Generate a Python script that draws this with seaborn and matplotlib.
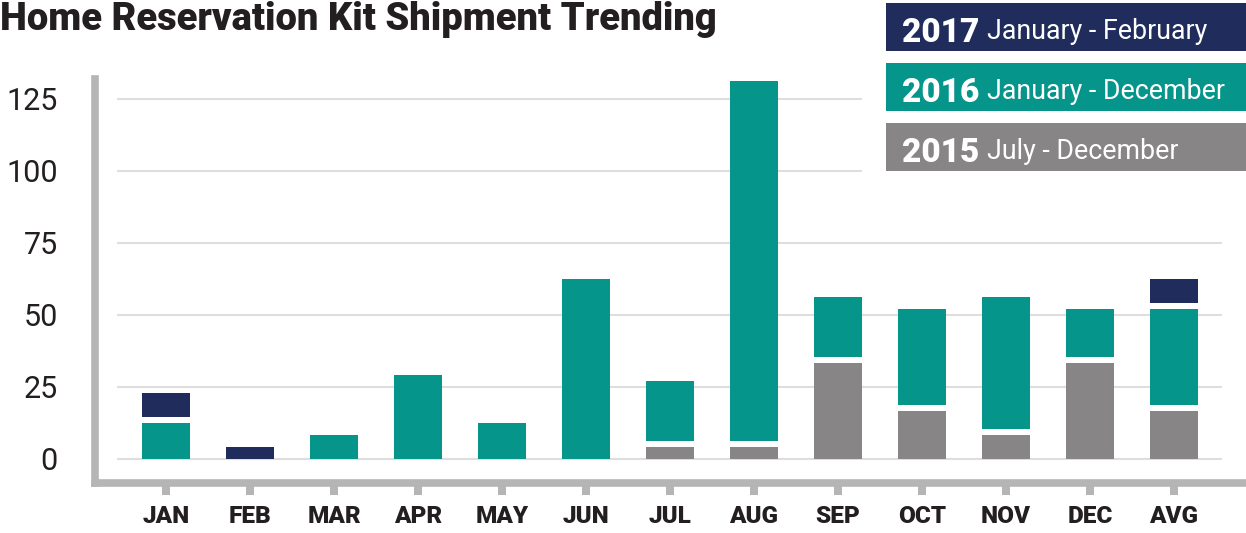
import matplotlib
matplotlib.use("Agg")
import matplotlib.pyplot as plt
import seaborn as sns
import pandas as pd
from matplotlib.patches import Rectangle

# ---- data ----
months = ["JAN", "FEB", "MAR", "APR", "MAY", "JUN", "JUL", "AUG", "SEP", "OCT", "NOV", "DEC", "AVG"]
y2015 = [0, 0, 0, 0, 0, 0, 4.1, 4.1, 33.2, 16.6, 8.2, 33.2, 16.6]
y2016 = [12.4, 0, 8.3, 29.1, 12.5, 62.4, 20.8, 124.9, 20.9, 33.4, 45.9, 16.7, 33.4]
y2017 = [8.3, 4.1, 0, 0, 0, 0, 0, 0, 0, 0, 0, 0, 8.4]
yticks = [0, 25, 50, 75, 100, 125]
legend_years = ["2017", "2016", "2015"]
legend_ranges = ["January - February", "January - December", "July - December"]
TITLE = "Home Reservation Kit Shipment Trending"

# ---- style ----
NAVY = "#1f2c5c"
TEAL = "#05958b"
GREY = "#878586"
AXIS = "#b5b5b5"
GRID = "#dedede"
INK = "#231f20"
GAP = 2.08  # white gap between stacked segments (data units)

sns.set_theme(style="white")
plt.rcParams["font.family"] = ["Roboto", "DejaVu Sans"]

W, H = 1246, 533
fig = plt.figure(figsize=(W / 100, H / 100), dpi=100)


def fx(px):
    return px / W


def fy(py):
    return 1 - py / H


ax_left, ax_right, ax_top, ax_bottom = 94.5, 1246, 78.85, 482.8
ax = fig.add_axes([fx(ax_left), fy(ax_bottom), fx(ax_right - ax_left), (ax_bottom - ax_top) / H])

df = pd.DataFrame({"month": months, "y2015": y2015, "y2016": y2016, "y2017": y2017})
b16 = [g + GAP if g > 0 else 0 for g in y2015]
b17 = [b + t + GAP if t > 0 else b for b, t in zip(b16, y2016)]

BW = 48 / 84
common = dict(order=months, width=BW, saturation=1, errorbar=None, linewidth=0, zorder=3, ax=ax)
sns.barplot(data=df, x="month", y="y2015", color=GREY, **common)
sns.barplot(data=df, x="month", y="y2016", color=TEAL, bottom=b16, **common)
sns.barplot(data=df, x="month", y="y2017", color=NAVY, bottom=b17, **common)

# gridlines (shortened under the legend)
for v in yticks:
    xmax = 12.571 if v <= 75 else 8.286
    ax.hlines(v, -0.583, xmax, color=GRID, lw=1.5, zorder=1)

ax.set_xlim(-0.8512, 12.857)
ax.set_ylim(-8.26, 131.89)
ax.set_xlabel("")
ax.set_ylabel("")

for s in ["top", "right"]:
    ax.spines[s].set_visible(False)
for s in ["left", "bottom"]:
    ax.spines[s].set_color(AXIS)
    ax.spines[s].set_linewidth(5.5)
    ax.spines[s].set_capstyle("projecting")

ax.set_yticks(yticks)
ax.set_yticklabels([str(v) for v in yticks], fontsize=22, color=INK)
ax.set_yticks([0, 25, 50], minor=True)
ax.tick_params(axis="y", which="major", left=True, length=0, pad=26.3)
ax.tick_params(axis="y", which="minor", left=True, length=9.2, width=5.5, color=AXIS)
ax.set_xticks(range(len(months)))
ax.set_xticklabels(months, fontsize=17.5, fontweight="heavy", color=INK)
ax.tick_params(axis="x", which="major", bottom=True, length=8.3, width=5.76, color=AXIS, pad=8)

# ---- title ----
title = fig.text(0.0, fy(30), TITLE, fontsize=27, fontweight="black", color=INK,
                 va="baseline", ha="left")
fig.canvas.draw()
r = fig.canvas.get_renderer()
w = title.get_window_extent(r).width
title.set_fontsize(27 * 715 / w)

# ---- legend boxes ----
colors = [NAVY, TEAL, GREY]
for i, (yr, rng, c) in enumerate(zip(legend_years, legend_ranges, colors)):
    top = 3 + 60 * i
    fig.patches.append(Rectangle((fx(886), fy(top + 47.7)), fx(360), 47.7 / H,
                                 transform=fig.transFigure, facecolor=c, edgecolor="none"))
    t = fig.text(fx(902), fy(top + 38.7), yr, fontsize=24, fontweight="heavy", color="white",
                 va="baseline", ha="left")
    fig.canvas.draw()
    x1 = t.get_window_extent(fig.canvas.get_renderer()).x1
    fig.text(fx(x1 + 8), fy(top + 35.8), rng, fontsize=19.3, color="white",
             va="baseline", ha="left")

fig.savefig("out.png", dpi=100)
